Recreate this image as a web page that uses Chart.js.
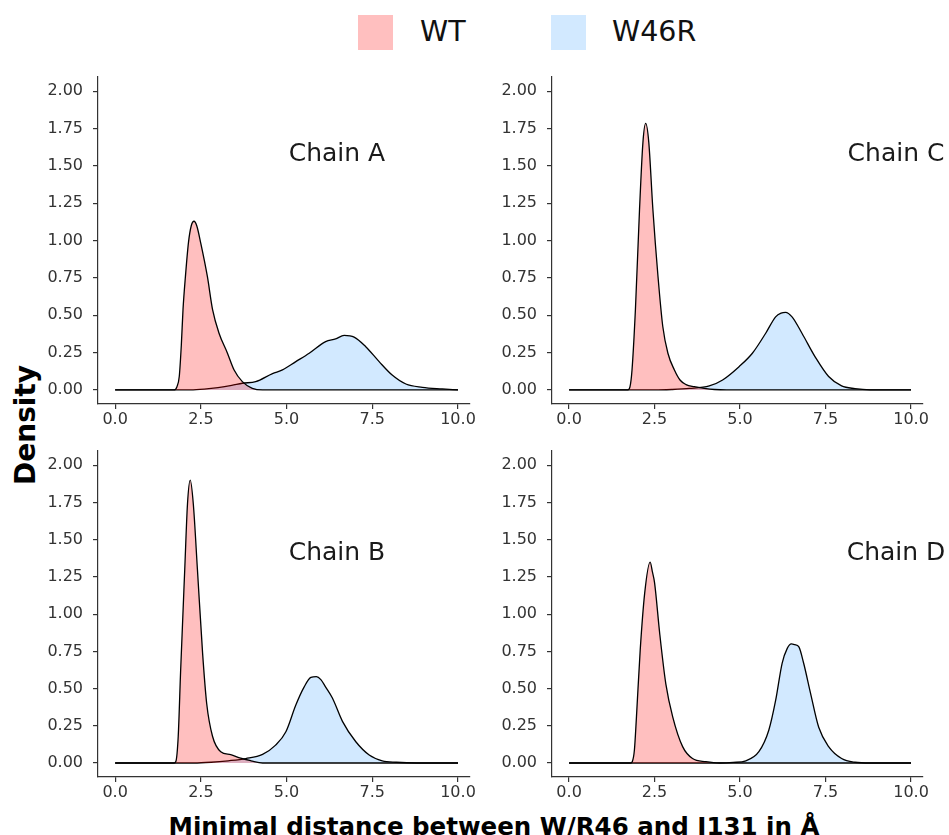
<!DOCTYPE html>
<html>
<head>
<meta charset="utf-8">
<script src="https://cdn.jsdelivr.net/npm/chart.js@4.4.1/dist/chart.umd.min.js"></script>
<style>
  body { margin: 0; background: #fff; width: 949px; height: 835px; position: relative; overflow: hidden; font-family: "DejaVu Sans", sans-serif; }
  canvas { position: absolute; }
  .swatch { position: absolute; width: 35px; height: 35px; top: 15px; }
  .legtext { position: absolute; top: 13px; font-size: 28.5px; color: #111; line-height: 38px; }
  #ylab { position: absolute; left: 25px; top: 425px; transform: translate(-50%, -50%) rotate(-90deg); font-weight: bold; font-size: 28px; white-space: nowrap; color: #000; }
  #xlab { position: absolute; left: 494px; top: 826px; transform: translate(-50%, -50%); font-weight: bold; font-size: 24.5px; white-space: nowrap; color: #000; }
</style>
</head>
<body>
<div class="swatch" style="left:358px;background:rgb(255,191,191)"></div>
<div class="legtext" style="left:420px">WT</div>
<div class="swatch" style="left:551px;background:rgb(210,233,255)"></div>
<div class="legtext" style="left:612px">W46R</div>

<canvas id="chainA" width="440" height="379" style="left:42px;top:55px"></canvas>
<canvas id="chainC" width="453" height="379" style="left:496px;top:55px"></canvas>
<canvas id="chainB" width="440" height="378" style="left:42px;top:429px"></canvas>
<canvas id="chainD" width="453" height="378" style="left:496px;top:429px"></canvas>

<div id="ylab">Density</div>
<div id="xlab">Minimal distance between W/R46 and I131 in Å</div>

<script>
// tick values
const xTicks = [0, 2.5, 5, 7.5, 10];
const yTicks = [0, 0.25, 0.5, 0.75, 1, 1.25, 1.5, 1.75, 2];

// density curves (distance in Å, density)
const wtA_x = [0, 1.72, 1.8, 1.87, 1.93, 1.98, 2.05, 2.14, 2.22, 2.3, 2.38, 2.5, 2.69, 2.84, 3.03, 3.27, 3.47, 3.71, 4.0, 4.3, 10];
const wtA_y = [0, 0, 0.02, 0.09, 0.3, 0.54, 0.76, 0.99, 1.10, 1.13, 1.10, 0.98, 0.76, 0.54, 0.38, 0.25, 0.134, 0.056, 0.011, 0, 0];
const mutA_x = [0, 2.2, 2.6, 3.0, 3.4, 3.71, 4.1, 4.59, 4.88, 5.27, 5.66, 6.14, 6.43, 6.68, 6.97, 7.31, 7.7, 8.08, 8.48, 8.96, 9.54, 10];
const mutA_y = [0, 0, 0.005, 0.015, 0.03, 0.045, 0.056, 0.11, 0.134, 0.19, 0.246, 0.324, 0.342, 0.365, 0.354, 0.29, 0.19, 0.10, 0.04, 0.018, 0.007, 0];

const wtC_x = [0, 1.72, 1.78, 1.84, 1.94, 2.06, 2.16, 2.24, 2.33, 2.45, 2.6, 2.74, 2.89, 3.08, 3.25, 3.42, 3.66, 3.95, 4.25, 4.6, 10];
const wtC_y = [0, 0, 0.02, 0.134, 0.54, 1.21, 1.66, 1.785, 1.66, 1.21, 0.76, 0.425, 0.246, 0.134, 0.065, 0.036, 0.022, 0.011, 0.003, 0, 0];
const mutC_x = [0, 2.5, 3.0, 3.52, 4.1, 4.49, 4.97, 5.36, 5.75, 6.04, 6.2, 6.33, 6.52, 6.81, 7.2, 7.59, 7.97, 8.36, 8.8, 10];
const mutC_y = [0, 0, 0.003, 0.01, 0.027, 0.067, 0.156, 0.246, 0.38, 0.49, 0.515, 0.52, 0.49, 0.38, 0.22, 0.09, 0.027, 0.009, 0.001, 0];

const wtB_x = [0, 1.72, 1.77, 1.84, 1.91, 2.03, 2.11, 2.19, 2.28, 2.40, 2.55, 2.67, 2.84, 3.08, 3.37, 3.66, 3.96, 4.3, 10];
const wtB_y = [0, 0, 0.01, 0.18, 0.62, 1.30, 1.74, 1.90, 1.74, 1.30, 0.74, 0.40, 0.18, 0.076, 0.056, 0.032, 0.015, 0, 0];
const mutB_x = [0, 2.3, 2.8, 3.3, 3.81, 4.3, 4.68, 4.98, 5.27, 5.51, 5.71, 5.87, 6.0, 6.14, 6.34, 6.63, 7.02, 7.41, 7.79, 8.2, 8.8, 10];
const mutB_y = [0, 0, 0.005, 0.015, 0.03, 0.058, 0.12, 0.21, 0.39, 0.51, 0.575, 0.58, 0.56, 0.51, 0.435, 0.28, 0.143, 0.054, 0.015, 0.005, 0, 0];

const wtD_x = [0, 1.8, 1.85, 1.91, 1.97, 2.08, 2.21, 2.37, 2.44, 2.5, 2.65, 2.83, 3.03, 3.32, 3.61, 4.0, 4.4, 10];
const wtD_y = [0, 0, 0.01, 0.087, 0.31, 0.76, 1.14, 1.35, 1.28, 1.21, 0.87, 0.53, 0.31, 0.11, 0.03, 0.009, 0, 0];
const mutD_x = [0, 4.4, 4.8, 5.17, 5.55, 5.84, 6.04, 6.23, 6.38, 6.5, 6.6, 6.72, 6.86, 7.06, 7.3, 7.59, 7.97, 8.36, 8.8, 10];
const mutD_y = [0, 0, 0.004, 0.015, 0.076, 0.22, 0.42, 0.67, 0.77, 0.80, 0.795, 0.78, 0.67, 0.47, 0.24, 0.11, 0.03, 0.005, 0, 0];

const toPoints = (xs, ys) => xs.map((x, i) => ({ x: x, y: ys[i] }));

// draws "Chain X" inside the panel, at data coordinates
const panelText = {
  id: 'panelText',
  afterDatasetsDraw(chart, args, opts) {
    const { ctx, scales } = chart;
    ctx.save();
    ctx.font = '25px "DejaVu Sans"';
    ctx.fillStyle = '#1a1a1a';
    ctx.textAlign = 'center';
    ctx.textBaseline = 'middle';
    ctx.fillText(opts.text, scales.x.getPixelForValue(opts.x), scales.y.getPixelForValue(opts.y));
    ctx.restore();
  }
};

const axisColor = '#333';
const tickFont = { family: 'DejaVu Sans', size: 16 };

const renderPanel = (id, wt, mut, label, rightPad) => {
  const config = {
    type: 'line',
    data: {
      datasets: [
        {
          label: 'WT',
          data: wt,
          backgroundColor: 'rgba(255, 0, 0, 0.25)',
          borderColor: '#000',
          borderWidth: 1.3,
          fill: 'origin',
          pointRadius: 0,
          cubicInterpolationMode: 'monotone'
        },
        {
          label: 'W46R',
          data: mut,
          backgroundColor: 'rgba(30, 144, 255, 0.2)',
          borderColor: '#000',
          borderWidth: 1.3,
          fill: 'origin',
          pointRadius: 0,
          cubicInterpolationMode: 'monotone'
        }
      ]
    },
    options: {
      responsive: false,
      animation: false,
      layout: { padding: { top: 22, right: rightPad, left: 0, bottom: 0 } },
      plugins: {
        legend: { display: false },
        tooltip: { enabled: false },
        panelText: label
      },
      scales: {
        x: {
          type: 'linear',
          min: -0.5,
          max: 10.35,
          afterBuildTicks: (s) => { s.ticks = xTicks.map(v => ({ value: v })); },
          afterFit: (s) => { s.height = 30; },
          ticks: { font: tickFont, color: axisColor, padding: 1, maxRotation: 0, autoSkip: false, callback: (v) => v.toFixed(1) },
          grid: { drawOnChartArea: false, drawTicks: true, tickLength: 5, color: axisColor, lineWidth: 1.2 },
          border: { display: true, color: axisColor, width: 1.2 }
        },
        y: {
          type: 'linear',
          min: -0.094,
          max: 2.096,
          afterBuildTicks: (s) => { s.ticks = yTicks.map(v => ({ value: v })); },
          afterFit: (s) => { s.width = 56; },
          ticks: { font: tickFont, color: axisColor, padding: 10, callback: (v) => v.toFixed(2) },
          grid: { drawOnChartArea: false, drawTicks: true, tickLength: 5, color: axisColor, lineWidth: 1.2 },
          border: { display: true, color: axisColor, width: 1.2 }
        }
      }
    },
    plugins: [panelText]
  };

  new Chart(document.getElementById(id), config);
};

renderPanel('chainA', toPoints(wtA_x, wtA_y), toPoints(mutA_x, mutA_y), { text: 'Chain A', x: 6.47, y: 1.58 }, 12);
renderPanel('chainC', toPoints(wtC_x, wtC_y), toPoints(mutC_x, mutC_y), { text: 'Chain C', x: 9.56, y: 1.58 }, 26);
renderPanel('chainB', toPoints(wtB_x, wtB_y), toPoints(mutB_x, mutB_y), { text: 'Chain B', x: 6.47, y: 1.41 }, 12);
renderPanel('chainD', toPoints(wtD_x, wtD_y), toPoints(mutD_x, mutD_y), { text: 'Chain D', x: 9.56, y: 1.41 }, 26);
</script>
</body>
</html>
